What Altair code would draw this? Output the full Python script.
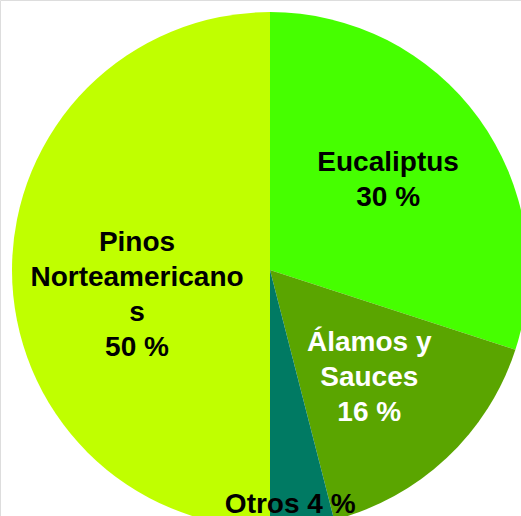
import altair as alt
import pandas as pd

categories = ["Eucaliptus", "Álamos y Sauces", "Otros", "Pinos Norteamericanos"]
values = [30, 16, 4, 50]
label_lines = [["Eucaliptus", "30 %"], ["Álamos y", "Sauces", "16 %"], ["Otros 4 %"],
               ["Pinos", "Norteamericano", "s", "50 %"]]
slice_colors = ["#46ff00", "#5aa500", "#007a63", "#c0ff00"]
text_colors = ["#000000", "#ffffff", "#000000", "#000000"]

df = pd.DataFrame({
    "cat": categories,
    "value": values,
    "order": list(range(len(categories))),
    "label": ["\n".join(l) for l in label_lines],
})

CX, CY, R = 270, 270, 258

pie = alt.Chart(df).mark_arc(outerRadius=R, strokeWidth=0).encode(
    theta=alt.Theta("value:Q", stack=True),
    order=alt.Order("order:Q"),
    color=alt.Color("cat:N", scale=alt.Scale(domain=categories, range=slice_colors), legend=None),
    x=alt.value(CX),
    y=alt.value(CY),
)

text_base = alt.Chart(df).transform_window(
    cum="sum(value)", sort=[alt.SortField("order")], frame=[None, 0]
).transform_calculate(
    mid="datum.cum - datum.value / 2"
)

placements = {
    "Eucaliptus": (146, 0, -21),
    "Álamos y Sauces": (145, 0, -33),
    "Otros": (233, -9, 4),
    "Pinos Norteamericanos": (133, 0, -27),
}

layers = [pie]
for cat, tc in zip(categories, text_colors):
    r, dx, dy = placements[cat]
    layers.append(
        text_base.transform_filter(alt.datum.cat == cat).mark_text(
            font="Liberation Sans", fontSize=28, fontWeight="bold", align="center",
            baseline="middle", lineBreak="\n", lineHeight=35, color=tc, dx=dx, dy=dy,
        ).encode(
            theta=alt.Theta("mid:Q", stack=None, scale=alt.Scale(domain=[0, 100])),
            radius=alt.value(r),
            text="label:N",
            x=alt.value(CX),
            y=alt.value(CY),
        )
    )

chart = alt.layer(*layers).properties(
    width=521, height=516, autosize=alt.AutoSizeParams(type="none"), padding=0
).configure_view(stroke=None).configure(background="white")

chart.save("out.html", embed_options={"renderer": "svg", "actions": False})
